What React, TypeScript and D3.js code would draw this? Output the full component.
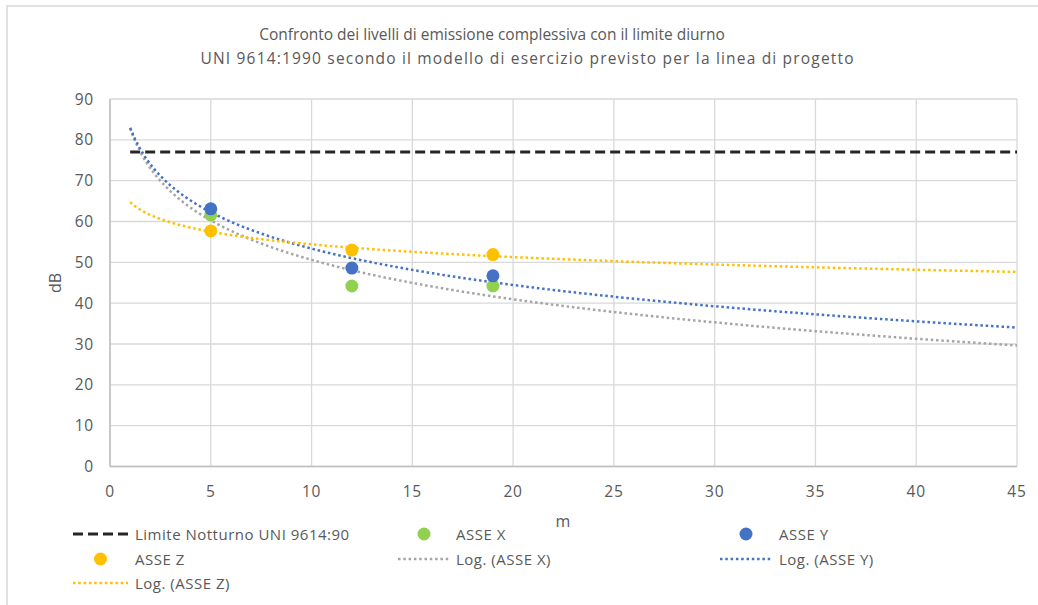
import React from "react";
import * as d3 from "d3";

const distances = [5, 12, 19];
const asseX = [61.6, 44.2, 44.2];
const asseY = [63.1, 48.6, 46.7];
const asseZ = [57.7, 53.0, 51.9];
const limitX = [1, 45];
const limitY = [77, 77];
const xTicks = [0, 5, 10, 15, 20, 25, 30, 35, 40, 45];
const yTicks = [0, 10, 20, 30, 40, 50, 60, 70, 80, 90];
const titleLines = [
  "Confronto dei livelli di emissione complessiva con il limite diurno",
  "UNI 9614:1990 secondo il modello di esercizio previsto per la linea di progetto",
];

const W = 1038;
const H = 605;
const FONT = "'Open Sans', 'Noto Sans', sans-serif";
const TXT = "#595959";

const C_X = "#92D050";
const C_Y = "#4472C4";
const C_Z = "#FFC000";
const C_TX = "#A5A5A5";

function logFit(xs: number[], ys: number[]) {
  const lx = xs.map((v) => Math.log(v));
  const mx = d3.mean(lx)!;
  const my = d3.mean(ys)!;
  let sxy = 0, sxx = 0;
  lx.forEach((l, i) => {
    sxy += (l - mx) * (ys[i] - my);
    sxx += (l - mx) * (l - mx);
  });
  const a = sxy / sxx;
  const b = my - a * mx;
  return (x: number) => a * Math.log(x) + b;
}

export default function App() {
  const x = d3.scaleLinear().domain([0, 45]).range([110, 1017]);
  const y = d3.scaleLinear().domain([0, 90]).range([466.5, 99]);

  const line = d3
    .line<[number, number]>()
    .x((d) => x(d[0]))
    .y((d) => y(d[1]));

  const samples = d3.range(1, 45.001, 0.25);
  const trend = (ys: number[]) => {
    const f = logFit(distances, ys);
    return line(samples.map((s) => [s, f(s)] as [number, number])) || "";
  };

  const limitPath = line(limitX.map((v, i) => [v, limitY[i]] as [number, number])) || "";

  const series = [
    { name: "ASSE X", ys: asseX, color: C_X, trendColor: C_TX },
    { name: "ASSE Y", ys: asseY, color: C_Y, trendColor: C_Y },
    { name: "ASSE Z", ys: asseZ, color: C_Z, trendColor: C_Z },
  ];

  const dotted = { strokeWidth: 2.5, strokeDasharray: "2.5 2.8" };

  const legendRows = [534, 559, 583];
  const legendCols = [
    { lx1: 73, lx2: 128, tx: 135 },
    { lx1: 398, lx2: 450, tx: 456 },
    { lx1: 720, lx2: 772, tx: 779 },
  ];
  type Item = { label: string; kind: "dash" | "dot" | "trend"; color: string };
  const legendItems: Item[] = [
    { label: "Limite Notturno UNI 9614:90", kind: "dash", color: "#262626" },
    { label: "ASSE X", kind: "dot", color: C_X },
    { label: "ASSE Y", kind: "dot", color: C_Y },
    { label: "ASSE Z", kind: "dot", color: C_Z },
    { label: "Log. (ASSE X)", kind: "trend", color: C_TX },
    { label: "Log. (ASSE Y)", kind: "trend", color: C_Y },
    { label: "Log. (ASSE Z)", kind: "trend", color: C_Z },
  ];

  return (
    <svg
      width={W}
      height={H}
      style={{ position: "absolute", left: 0, top: 0, background: "#fff" }}
      fontFamily={FONT}
    >
      <rect x={7} y={6} width={W + 10} height={H + 10} fill="#fff" stroke="#d9d9d9" strokeWidth={1.5} />

      <text x={492} y={40} textAnchor="middle" fontSize={15.5} fill={TXT}>
        {titleLines[0]}
      </text>
      <text
        x={527}
        y={64}
        textAnchor="middle"
        fontSize={15.5}
        fill={TXT}
        textLength={653}
        lengthAdjust="spacing"
      >
        {titleLines[1]}
      </text>

      {/* gridlines */}
      {yTicks.map((t) => (
        <line key={"gy" + t} x1={x(0)} x2={x(45)} y1={y(t)} y2={y(t)} stroke="#d9d9d9" strokeWidth={1.3} />
      ))}
      {xTicks.map((t) => (
        <line key={"gx" + t} x1={x(t)} x2={x(t)} y1={y(0)} y2={y(90)} stroke="#d9d9d9" strokeWidth={1.3} />
      ))}
      <line x1={x(0)} x2={x(0)} y1={y(0)} y2={y(90)} stroke="#bfbfbf" strokeWidth={1.5} />
      <line x1={x(0)} x2={x(45)} y1={y(0)} y2={y(0)} stroke="#bfbfbf" strokeWidth={1.5} />

      {/* tick labels */}
      {yTicks.map((t) => (
        <text key={"ty" + t} x={94} y={y(t) + 5.5} textAnchor="end" fontSize={15.5} letterSpacing={0.8} fill={TXT}>
          {t}
        </text>
      ))}
      {xTicks.map((t) => (
        <text key={"tx" + t} x={x(t)} y={497} textAnchor="middle" fontSize={15.5} letterSpacing={0.8} fill={TXT}>
          {t}
        </text>
      ))}
      <text x={563} y={527} textAnchor="middle" fontSize={16} fill={TXT}>
        m
      </text>
      <text transform="translate(61,283) rotate(-90)" textAnchor="middle" fontSize={16} fill={TXT}>
        dB
      </text>

      {/* limit line */}
      <path d={limitPath} fill="none" stroke="#262626" strokeWidth={3} strokeDasharray="10 5" />

      {/* trendlines */}
      {series.map((s) => (
        <path key={"tr" + s.name} d={trend(s.ys)} fill="none" stroke={s.trendColor} {...dotted} />
      ))}

      {/* markers */}
      {series.map((s) =>
        s.ys.map((v, i) => (
          <circle key={s.name + i} cx={x(distances[i])} cy={y(v)} r={6.5} fill={s.color} />
        ))
      )}

      {/* legend */}
      {legendItems.map((it, i) => {
        const col = legendCols[i % 3];
        const ry = legendRows[Math.floor(i / 3)];
        return (
          <g key={"lg" + i}>
            {it.kind === "dash" && (
              <line x1={col.lx1} x2={col.lx2} y1={ry} y2={ry} stroke={it.color} strokeWidth={3} strokeDasharray="10 5" />
            )}
            {it.kind === "dot" && <circle cx={(col.lx1 + col.lx2) / 2} cy={ry} r={6.5} fill={it.color} />}
            {it.kind === "trend" && (
              <line x1={col.lx1} x2={col.lx2} y1={ry} y2={ry} stroke={it.color} {...dotted} />
            )}
            <text x={col.tx} y={ry + 5.5} fontSize={15} letterSpacing={0.5} fill={TXT}>
              {it.label}
            </text>
          </g>
        );
      })}
    </svg>
  );
}
